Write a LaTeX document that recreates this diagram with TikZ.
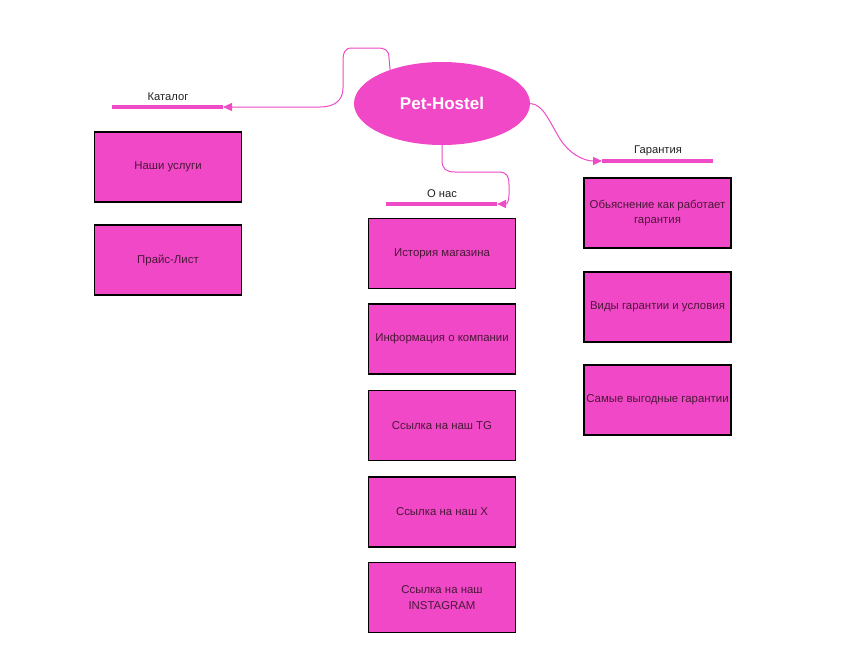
\documentclass[tikz,border=0pt]{standalone}
\usepackage{fontspec}
\setmainfont{Liberation Sans}
\usetikzlibrary{arrows.meta,shapes.geometric}
\definecolor{pinkfill}{HTML}{F048C6}
\definecolor{pinkline}{HTML}{EE4CC6}
\definecolor{boxtext}{HTML}{4A1838}
\definecolor{labeltext}{HTML}{222222}
\begin{document}
\begin{tikzpicture}[x=1pt,y=-1pt,
  box/.style={draw=black, line width=1.6pt, fill=pinkfill, minimum width=147pt, minimum height=70pt,
    inner sep=1pt, align=center, text=boxtext, font=\fontsize{11.4}{15.5}\selectfont},
  head/.style={text=labeltext, font=\fontsize{11.2}{13}\selectfont, inner sep=0pt},
  bar/.style={pinkline, line width=3.5pt},
  conn/.style={pinkline, line width=1pt, -{Triangle[length=9pt,width=8pt]}},
  hub/.style={ellipse, fill=pinkfill, minimum width=176pt, minimum height=83pt, inner sep=0pt,
    text=white, font=\fontsize{17}{20}\selectfont\bfseries}]
\useasboundingbox (0,0) rectangle (861,664);
\fill[white] (0,0) rectangle (861,664);

% hub
\node[hub] (ell) at (442,103.5) {Pet-Hostel};

% headings
\node[head] (catlab) at (168,97) {Каталог};
\coordinate (catL) at (112,107);
\coordinate (catR) at (223,107);
\draw[bar] (catL) -- (catR);

\node[head] (onlab) at (442,194) {О нас};
\coordinate (onL) at (386,204);
\coordinate (onR) at (497,204);
\draw[bar] (onL) -- (onR);

\node[head] (garlab) at (658,151) {Гарантия};
\coordinate (garL) at (602,161);
\coordinate (garR) at (713,161);
\draw[bar] (garL) -- (garR);

% connectors
\draw[conn] (ell.147) -- (389,58) .. controls (389,50) and (385,48) .. (377,48) -- (352,48)
  .. controls (345,48) and (343,52) .. (343,62) -- (343,88)
  .. controls (343,100) and (335,107) .. (320,107) -- (catR);
\draw[conn] (ell.south) -- (442,160) .. controls (442,169) and (446,172) .. (455,172) -- (498,172)
  .. controls (507,172) and (509,176) .. (509,185) -- (509,195)
  .. controls (509,201) and (507,204) .. (onR);
\draw[conn] (ell.east) .. controls (544,104) and (550,124) .. (562,142)
  .. controls (574,158) and (588,161) .. (garL);

% left column
\node[box] (b1) at (168,167) {Наши услуги};
\node[box] (b2) at (168,260) {Прайс-Лист};

% middle column
\node[box] (m1) at (442,253.5) {История магазина};
\node[box] (m2) at (442,339) {Информация о компании};
\node[box] (m3) at (442,425.5) {Ссылка на наш TG};
\node[box] (m4) at (442,512) {Ссылка на наш X};
\node[box] (m5) at (442,597.5) {Ссылка на наш\\INSTAGRAM};

% right column
\node[box] (r1) at (657.5,213) {Обьяснение как работает\\гарантия};
\node[box] (r2) at (657.5,307) {Виды гарантии и условия};
\node[box] (r3) at (657.5,400) {Самые выгодные гарантии};
\end{tikzpicture}
\end{document}
